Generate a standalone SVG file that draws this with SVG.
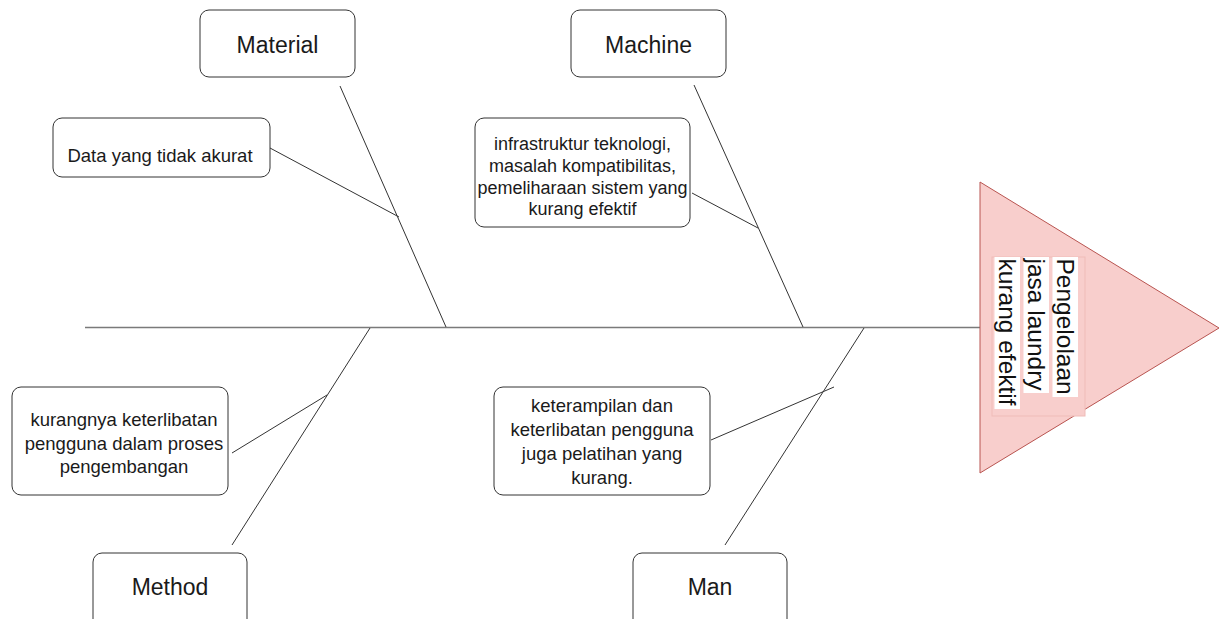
<svg xmlns="http://www.w3.org/2000/svg" width="1226" height="619" viewBox="0 0 1226 619">
  <style>
    .box { fill: #ffffff; stroke: #333333; stroke-width: 1; }
    .cat { font-family: "Liberation Sans", Arial, sans-serif; font-size: 23px; fill: #1a1a1a; text-anchor: middle; }
    .cause { font-family: "Liberation Sans", Arial, sans-serif; font-size: 18.5px; fill: #1a1a1a; text-anchor: middle; }
    .cause.tight { font-size: 18px; }
    .bone { stroke: #333333; stroke-width: 1; fill: none; }
    .spine { stroke: #7a7a7a; stroke-width: 1.6; fill: none; }
    .head-text { font-family: "Liberation Sans", Arial, sans-serif; font-size: 24.5px; fill: #111111; }
    .hl { fill: #ffffff; }
  </style>
  <rect width="1226" height="619" fill="#ffffff"/>

  <!-- fishbone connectors -->
  <g id="connectors">
    <line class="spine" x1="85" y1="327.5" x2="980" y2="327.5"/>
    <line class="bone" x1="340" y1="86" x2="446" y2="327"/>
    <line class="bone" x1="694" y1="85" x2="803" y2="327"/>
    <line class="bone" x1="370" y1="328" x2="232" y2="545"/>
    <line class="bone" x1="864" y1="328" x2="725" y2="545"/>
    <line class="bone" x1="270" y1="148" x2="399" y2="217"/>
    <line class="bone" x1="692" y1="193" x2="758" y2="228"/>
    <line class="bone" x1="232" y1="453" x2="327" y2="395"/>
    <line class="bone" x1="711" y1="440" x2="834" y2="387"/>
  </g>

  <!-- effect (fish head) -->
  <g id="head">
    <polygon points="980,182 1219,328 980,473" fill="#f8cecc" stroke="#b85450" stroke-width="1"/>
    <rect x="992" y="257" width="93" height="159" fill="#f8cecc" stroke="#efbcb8" stroke-width="1"/>
    <g transform="translate(1057,258.5) rotate(90)">
      <rect class="hl" x="-1.5" y="-21" width="140" height="25.5"/>
      <rect class="hl" x="-1.5" y="8" width="136" height="25.5"/>
      <rect class="hl" x="-1.5" y="37" width="152" height="25.5"/>
      <text class="head-text" x="0" y="0">Pengelolaan</text>
      <text class="head-text" x="0" y="29">jasa laundry</text>
      <text class="head-text" x="0" y="58">kurang efektif</text>
    </g>
  </g>

  <!-- categories -->
  <g id="material">
    <rect class="box" x="200" y="10" width="155" height="67" rx="9"/>
    <text class="cat" x="277.5" y="53">Material</text>
  </g>
  <g id="machine">
    <rect class="box" x="571" y="10" width="155" height="67" rx="9"/>
    <text class="cat" x="648.5" y="53">Machine</text>
  </g>
  <g id="method">
    <rect class="box" x="93" y="553" width="154" height="80" rx="9"/>
    <text class="cat" x="170" y="595">Method</text>
  </g>
  <g id="man">
    <rect class="box" x="633" y="553" width="154" height="80" rx="9"/>
    <text class="cat" x="710" y="595">Man</text>
  </g>

  <!-- causes -->
  <g id="cause-material">
    <rect class="box" x="53" y="118" width="217" height="59" rx="9"/>
    <text class="cause" x="160" y="161.5">Data yang tidak akurat</text>
  </g>
  <g id="cause-machine">
    <rect class="box" x="475" y="118" width="215" height="109" rx="9"/>
    <text class="cause tight" x="582.5" y="150">infrastruktur teknologi,</text>
    <text class="cause tight" x="582.5" y="172">masalah kompatibilitas,</text>
    <text class="cause tight" x="582.5" y="193.5">pemeliharaan sistem yang</text>
    <text class="cause tight" x="582.5" y="215">kurang efektif</text>
  </g>
  <g id="cause-method">
    <rect class="box" x="12" y="387" width="216" height="108" rx="9"/>
    <text class="cause" x="124" y="426">kurangnya keterlibatan</text>
    <text class="cause" x="124" y="449.5">pengguna dalam proses</text>
    <text class="cause" x="124" y="473">pengembangan</text>
  </g>
  <g id="cause-man">
    <rect class="box" x="494" y="387" width="216" height="108" rx="9"/>
    <text class="cause" x="602" y="411.5">keterampilan dan</text>
    <text class="cause" x="602" y="435.5">keterlibatan pengguna</text>
    <text class="cause" x="602" y="459.5">juga pelatihan yang</text>
    <text class="cause" x="602" y="483.5">kurang.</text>
  </g>
</svg>
